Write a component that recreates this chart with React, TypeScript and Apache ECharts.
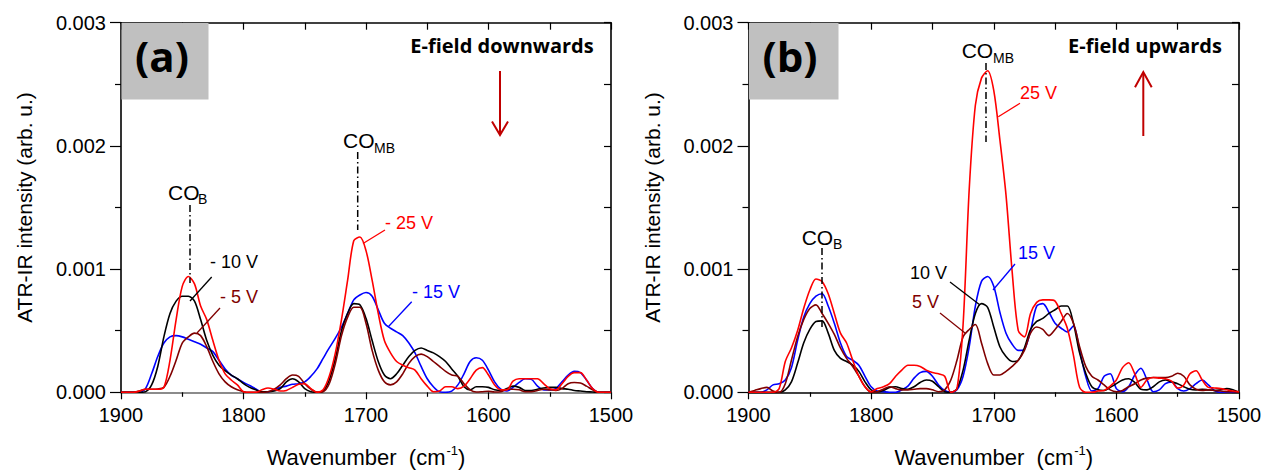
import React, { useEffect, useRef } from "react";
import * as echarts from "echarts";

// Wavenumber grid (cm-1) shared by all series
const WAVENUMBERS = [
  1900, 1895, 1890, 1885, 1880, 1875, 1870, 1865, 1860, 1855,
  1850, 1845, 1840, 1835, 1830, 1825, 1820, 1815, 1810, 1805,
  1800, 1795, 1790, 1785, 1780, 1775, 1770, 1765, 1760, 1755,
  1750, 1745, 1740, 1735, 1730, 1725, 1720, 1715, 1710, 1705,
  1700, 1695, 1690, 1685, 1680, 1675, 1670, 1665, 1660, 1655,
  1650, 1645, 1640, 1635, 1630, 1625, 1620, 1615, 1610, 1605,
  1600, 1595, 1590, 1585, 1580, 1575, 1570, 1565, 1560, 1555,
  1550, 1545, 1540, 1535, 1530, 1525, 1520, 1515, 1510, 1505,
  1500,
];

// Intensities in units of 1e-4 arb. u.
// Panel (a): E-field downwards
const A_M25V = [
  0, 0, 0, 0.1, 0.25, 0.25, 0.25, 0.4, 2.6, 5.9,
  8.6, 9.4, 8.8, 7.0, 5.9, 4.2, 2.6, 1.5, 1.0, 0.6,
  0.05, 0, 0, 0.2, 0.35, 0.25, 0.1, 0.15, 0.4, 0.65,
  0.7, 0.3, 0, 0.2, 1.3, 3.2, 5.9, 9.1, 12.3, 12.6,
  11.5, 9.1, 6.4, 4.2, 3.2, 2.5, 2.2, 2.0, 1.8, 1.1,
  0.5, 0.05, 0.1, 0.45, 0.45, 0.3, 0.5, 1.1, 1.8, 2.0,
  1.4, 0.6, 0.2, 0.2, 0.9, 1.1, 1.1, 1.1, 1.1, 0.7,
  0.3, 0.2, 0.7, 1.3, 1.6, 1.6, 1.0, 0.3, 0, 0,
  0,
];
const A_M15V = [
  0, 0, 0, 0, 0.3, 1.5, 2.9, 4.0, 4.5, 4.6,
  4.5, 4.3, 4.1, 3.9, 3.6, 3.3, 2.6, 1.9, 1.4, 1.1,
  0.8, 0.55, 0.27, 0.05, 0.05, 0.2, 0.4, 0.5, 0.65, 0.7,
  0.85, 1.3, 1.9, 2.75, 3.6, 4.4, 5.3, 6.4, 7.5, 7.9,
  8.1, 7.8, 6.7, 5.6, 5.2, 4.9, 4.6, 4.0, 3.2, 2.1,
  1.1, 0.45, 0.05, 0, 0.1, 0.6, 1.5, 2.5, 2.8, 2.6,
  1.8, 0.85, 0.25, 0.1, 0.4, 0.8, 1.1, 1.05, 0.5, 0.2,
  0.2, 0.3, 0.85, 1.4, 1.7, 1.6, 1.0, 0.3, 0, 0,
  0,
];
const A_M10V = [
  0, 0, 0, 0, 0.05, 0.6, 2.1, 4.5, 6.4, 7.4,
  7.8, 7.8, 7.4, 5.9, 4.2, 3.0, 2.2, 1.75, 1.4, 1.1,
  0.7, 0.4, 0.2, 0.05, 0.05, 0.1, 0.3, 0.85, 1.1, 0.85,
  0.3, 0.05, 0, 0.1, 1.0, 2.75, 5.0, 6.4, 7.2, 7.1,
  6.0, 4.2, 2.5, 1.4, 1.1, 1.5, 2.2, 2.9, 3.4, 3.6,
  3.4, 3.2, 2.9, 2.5, 1.9, 1.3, 0.45, 0.2, 0.45, 0.45,
  0.4, 0.2, 0.15, 0.3, 0.5, 0.4, 0.15, 0.15, 0.25, 0.35,
  0.4, 0.4, 0.3, 0.25, 0.15, 0.1, 0.05, 0.03, 0, 0,
  0,
];
const A_M5V = [
  0, 0, 0, 0.1, 0.25, 0.25, 0.27, 0.4, 1.3, 2.6,
  4.0, 4.5, 4.8, 4.6, 3.7, 2.5, 1.5, 0.85, 0.45, 0.2,
  0.05, 0, 0, 0, 0.05, 0.25, 0.6, 1.1, 1.4, 1.3,
  0.7, 0.25, 0, 0.05, 0.7, 2.35, 4.6, 6.1, 6.9, 6.9,
  5.6, 3.4, 1.8, 0.85, 0.6, 0.85, 1.5, 2.35, 2.9, 3.1,
  2.9, 2.5, 2.1, 1.7, 1.4, 1.3, 0.7, 0.2, 0.03, 0.05,
  0.08, 0.03, 0.05, 0.25, 0.25, 0.2, 0.05, 0.05, 0.15, 0.25,
  0.2, 0.15, 0.3, 0.7, 0.8, 0.75, 0.5, 0.2, 0, 0,
  0,
];

// Panel (b): E-field upwards
const B_25V = [
  0, 0, 0, 0, 0, 0.3, 2.5, 3.6, 5.0, 6.8,
  8.3, 9.2, 9.0, 8.0, 6.4, 4.8, 4.0, 2.6, 1.3, 0.45,
  0.05, 0.3, 0.45, 0.7, 1.3, 1.8, 2.2, 2.2, 2.1, 1.8,
  1.6, 1.5, 1.3, 0, 0.3, 5.5, 16.5, 23.3, 25.5, 26.1,
  24.5, 20.5, 16.0, 9.8, 5.0, 4.5, 6.4, 7.3, 7.5, 7.5,
  7.4, 6.4, 5.2, 3.0, 0.4, 0, 0, 0.1, 0.15, 0.5,
  1.0, 2.0, 2.4, 1.5, 0.4, 1.0, 1.2, 1.15, 1.1, 0.9,
  0.35, 0.6, 1.5, 1.75, 1.0, 0.4, 0.35, 0.3, 0.2, 0.1,
  0.05,
];
const B_15V = [
  0, 0, 0, 0.2, 0.6, 0.7, 1.0, 2.0, 4.2, 6.1,
  7.2, 7.8, 8.0, 7.0, 5.6, 4.0, 2.9, 2.6, 2.2, 1.3,
  0.45, 0.1, 0.05, 0, 0, 0.2, 0.5, 1.15, 1.6, 1.7,
  1.3, 0.6, 0.15, 0, 0.2, 1.3, 3.7, 7.0, 9.0, 9.4,
  8.6, 6.5, 4.8, 3.9, 3.4, 3.5, 5.0, 7.0, 7.2, 6.5,
  5.6, 5.2, 4.9, 5.4, 3.4, 1.3, 0.1, 0.3, 1.3, 1.5,
  0.3, 0.05, 0.45, 1.4, 1.95, 1.0, 0.05, 0.2, 0.7, 0.85,
  0.3, 0.1, 0.3, 0.7, 1.0, 0.6, 0.15, 0, 0, 0,
  0,
];
const B_10V = [
  0, 0, 0, 0, 0, 0, 0.2, 0.85, 2.35, 4.0,
  5.1, 5.75, 5.8, 4.8, 3.4, 2.75, 2.5, 2.2, 1.7, 0.85,
  0.2, 0.05, 0.15, 0.4, 0.45, 0.3, 0.25, 0.45, 0.8, 1.0,
  0.9, 0.45, 0.05, 0, 0.3, 1.8, 4.25, 6.4, 7.2, 6.9,
  5.3, 3.7, 2.9, 2.5, 2.6, 3.6, 5.1, 5.75, 6.0, 6.4,
  6.7, 7.0, 7.0, 5.6, 3.2, 1.55, 0.45, 0.2, 0.15, 0.4,
  0.7, 1.0, 1.1, 0.8, 0.25, 0.2, 0.45, 0.85, 1.0, 0.85,
  0.7, 0.45, 0.25, 0.2, 0.25, 0.2, 0.15, 0.2, 0.3, 0.2,
  0,
];
const B_5V = [
  0, 0.15, 0.3, 0.4, 0.1, 0, 0.7, 2.6, 4.5, 5.9,
  6.8, 7.1, 6.4, 5.6, 4.7, 3.6, 2.75, 2.1, 1.3, 0.45,
  0, 0.05, 0.25, 0.45, 0.3, 0.2, 0.2, 0.25, 0.3, 0.3,
  0.2, 0.05, 0.2, 1.0, 2.6, 4.5, 5.1, 5.5, 4.0, 2.35,
  1.4, 1.4, 1.7, 2.1, 2.6, 3.4, 4.8, 5.3, 5.1, 4.6,
  5.1, 5.75, 6.4, 5.6, 3.7, 2.1, 1.3, 1.0, 0.6, 0.2,
  0.05, 0.15, 0.45, 0.7, 1.0, 1.15, 1.2, 1.2, 1.2, 1.3,
  1.55, 1.3, 0.6, 0.25, 0.15, 0.2, 0.15, 0.1, 0.05, 0.05,
  0,
];

const X_MIN = 1500;
const X_MAX = 1900;
const Y_MIN = 0; // in 1e-4
const Y_MAX = 30; // in 1e-4

const RED = "#ff0000";
const BLUE = "#0000ff";
const BLACK = "#000000";
const DARKRED = "#800000";
const ARROW = "#c00000";
const FONT = '"Liberation Sans", Arial, sans-serif';
const BOLD_FONT = '"Open Sans", "Liberation Sans", sans-serif';

const GRIDS = [
  { left: 121, top: 22.7, width: 490, height: 369.6 },
  { left: 748.5, top: 22.7, width: 490.5, height: 369.6 },
];

function pairs(values: number[]) {
  return WAVENUMBERS.map((w, i) => [w, values[i]]);
}

function makeXAxes(gridIndex: number, lineColor: string) {
  return [
    {
      type: "value",
      gridIndex,
      min: X_MIN,
      max: X_MAX,
      interval: 100,
      inverse: true,
      position: "bottom",
      axisLine: { show: true, onZero: false, lineStyle: { color: lineColor, width: 1.6 } },
      axisTick: { show: true, inside: false, length: 7, lineStyle: { color: "#000", width: 1.2 } },
      minorTick: { show: true, splitNumber: 2, length: 4.5, lineStyle: { color: "#000", width: 1.2 } },
      axisLabel: {
        fontSize: 20,
        color: "#000",
        fontFamily: FONT,
        margin: 13,
        formatter: (v: number) => String(v),
      },
      splitLine: { show: false },
      minorSplitLine: { show: false },
      name: "{n|Wavenumber  (cm}{s|-1}{n|)}",
      nameLocation: "middle",
      nameGap: 52,
      nameTextStyle: {
        fontSize: 22,
        fontFamily: FONT,
        color: "#000",
        rich: {
          n: { fontSize: 22, fontFamily: FONT, color: "#000", verticalAlign: "bottom" },
          s: { fontSize: 13, fontFamily: FONT, color: "#000", verticalAlign: "bottom", padding: [0, 0, 11, 1] },
        },
      },
    },
    {
      type: "value",
      gridIndex,
      min: X_MIN,
      max: X_MAX,
      interval: 50,
      inverse: true,
      position: "top",
      axisLine: { show: true, onZero: false, lineStyle: { color: "#000", width: 1.6 } },
      axisTick: { show: true, inside: true, length: 7, lineStyle: { color: "#000", width: 1.2 } },
      axisLabel: { show: false },
      splitLine: { show: false },
    },
  ];
}

function makeYAxes(gridIndex: number) {
  return [
    {
      type: "value",
      gridIndex,
      min: Y_MIN,
      max: Y_MAX,
      interval: 10,
      position: "left",
      axisLine: { show: true, onZero: false, lineStyle: { color: "#000", width: 1.6 } },
      axisTick: { show: true, inside: false, length: 11, lineStyle: { color: "#000", width: 1.2 } },
      minorTick: { show: true, splitNumber: 2, length: 6, lineStyle: { color: "#000", width: 1.2 } },
      axisLabel: {
        fontSize: 20,
        color: "#000",
        fontFamily: FONT,
        margin: 15,
        formatter: (v: number) => (v / 10000).toFixed(3),
      },
      splitLine: { show: false },
      minorSplitLine: { show: false },
      name: "ATR-IR intensity (arb. u.)",
      nameLocation: "middle",
      nameGap: 86,
      nameTextStyle: { fontSize: 21, fontFamily: FONT, color: "#000" },
    },
    {
      type: "value",
      gridIndex,
      min: Y_MIN,
      max: Y_MAX,
      interval: 5,
      position: "right",
      axisLine: { show: true, onZero: false, lineStyle: { color: "#000", width: 1.6 } },
      axisTick: { show: true, inside: true, length: 7, lineStyle: { color: "#000", width: 1.2 } },
      axisLabel: { show: false },
      splitLine: { show: false },
    },
  ];
}

function makeSeries(name: string, values: number[], color: string, axisIndex: number) {
  return {
    name,
    type: "line",
    xAxisIndex: axisIndex,
    yAxisIndex: axisIndex,
    data: pairs(values),
    showSymbol: false,
    smooth: 0.3,
    lineStyle: { color, width: 1.6 },
    itemStyle: { color },
    emphasis: { disabled: true },
  };
}

function txt(text: string, x: number, y: number, color: string, size: number, align = "left", bold = false) {
  return {
    type: "text",
    x,
    y,
    z: 20,
    style: {
      text,
      fill: color,
      fontSize: size,
      fontFamily: bold ? BOLD_FONT : FONT,
      fontWeight: bold ? "bold" : "normal",
      textAlign: align,
      textVerticalAlign: "middle",
      align,
      verticalAlign: "middle",
    },
  };
}

function seg(x1: number, y1: number, x2: number, y2: number, color: string, width = 1.3, dash?: number[]) {
  return {
    type: "line",
    z: 20,
    shape: { x1, y1, x2, y2 },
    style: { stroke: color, lineWidth: width, lineDash: dash || null },
  };
}

function head(points: number[][], color: string) {
  return {
    type: "polyline",
    z: 20,
    shape: { points },
    style: { stroke: color, lineWidth: 2, fill: null },
  };
}

const DASHDOT = [7, 3, 1.5, 3];

export default function App() {
  const ref = useRef<HTMLDivElement>(null);

  useEffect(() => {
    if (!ref.current) return;
    const chart = echarts.init(ref.current, null, { renderer: "svg" });

    const graphic: any[] = [
      // Panel (a)
      { type: "rect", z: 1, shape: { x: 121.5, y: 23, width: 87, height: 76.5 }, style: { fill: "#c0c0c0" } },
      txt("(a)", 162, 55, "#000", 42, "center", true),
      txt("E-field downwards", 502, 45, "#000", 20, "center", true),
      seg(500, 71, 500, 134, ARROW, 2),
      head([[492, 121.5], [500, 135], [508, 121.5]], ARROW),
      txt("CO", 343, 140, "#000", 21),
      txt("MB", 374, 148, "#000", 14),
      seg(357.7, 152, 357.7, 230, "#000", 1.5, DASHDOT),
      txt("CO", 168, 192, "#000", 21),
      txt("B", 198, 199, "#000", 14),
      seg(190, 205, 190, 283, "#000", 1.5, DASHDOT),
      txt("- 10 V", 210, 262, BLACK, 18),
      seg(211.7, 277, 190, 301, BLACK),
      txt("- 5 V", 220, 297, DARKRED, 18),
      seg(220, 308, 197, 333, DARKRED),
      txt("- 25 V", 385, 223, RED, 18),
      seg(385, 230, 363, 243.5, RED),
      txt("- 15 V", 412, 292, BLUE, 18),
      seg(411.7, 301.7, 388.3, 326.7, BLUE),

      // Panel (b)
      { type: "rect", z: 1, shape: { x: 749, y: 23, width: 89.5, height: 76.5 }, style: { fill: "#c0c0c0" } },
      txt("(b)", 790, 55, "#000", 42, "center", true),
      txt("E-field upwards", 1145, 45, "#000", 20, "center", true),
      seg(1143.3, 136, 1143.3, 73, ARROW, 2),
      head([[1135, 87.3], [1143.3, 72], [1151.7, 87.3]], ARROW),
      txt("CO", 961.7, 50, "#000", 21),
      txt("MB", 993, 58, "#000", 14),
      seg(986, 63, 986, 142, "#000", 1.5, DASHDOT),
      txt("25 V", 1020, 93, RED, 18),
      seg(1020, 103.3, 998.3, 116.7, RED),
      txt("CO", 801.7, 237, "#000", 21),
      txt("B", 833, 244, "#000", 14),
      seg(822, 248, 822, 327, "#000", 1.5, DASHDOT),
      txt("15 V", 1018, 253, BLUE, 18),
      seg(1015, 264, 993, 290, BLUE),
      txt("10 V", 910, 273, BLACK, 18),
      seg(950, 282, 980, 305, BLACK),
      txt("5 V", 912, 302, DARKRED, 18),
      seg(940, 313, 965, 333, DARKRED),
    ];

    const option: any = {
      animation: false,
      backgroundColor: "#ffffff",
      grid: GRIDS.map((g) => ({ ...g, containLabel: false })),
      xAxis: [...makeXAxes(0, "#666666"), ...makeXAxes(1, "#000000")],
      yAxis: [...makeYAxes(0), ...makeYAxes(1)],
      series: [
        makeSeries("-15 V", A_M15V, BLUE, 0),
        makeSeries("-10 V", A_M10V, BLACK, 0),
        makeSeries("-5 V", A_M5V, DARKRED, 0),
        makeSeries("-25 V", A_M25V, RED, 0),
        makeSeries("15 V", B_15V, BLUE, 2),
        makeSeries("10 V", B_10V, BLACK, 2),
        makeSeries("5 V", B_5V, DARKRED, 2),
        makeSeries("25 V", B_25V, RED, 2),
      ],
      graphic,
    };

    chart.setOption(option);
    return () => chart.dispose();
  }, []);

  return (
    <div
      ref={ref}
      style={{ position: "fixed", left: 0, top: 0, width: 1282, height: 474, background: "#fff" }}
    />
  );
}
